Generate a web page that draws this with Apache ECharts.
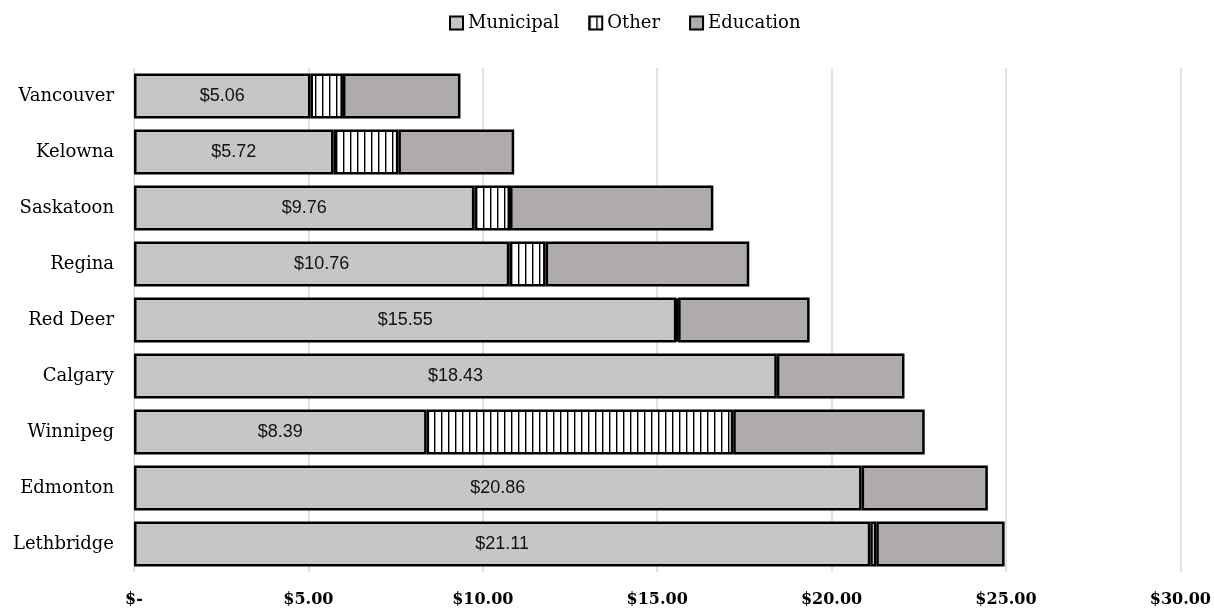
<!DOCTYPE html>
<html>
<head>
<meta charset="utf-8">
<style>
  html, body { margin: 0; padding: 0; background: #fff; }
  #chart { width: 1214px; height: 608px; }
</style>
<script src="https://cdn.jsdelivr.net/npm/echarts@6/dist/echarts.min.js"></script>
</head>
<body>
<div id="chart"></div>
<script>
// Property tax components by city ($ per $1,000 of assessment)
const cities = ['Vancouver', 'Kelowna', 'Saskatoon', 'Regina', 'Red Deer', 'Calgary', 'Winnipeg', 'Edmonton', 'Lethbridge'];
const municipal = [5.06, 5.72, 9.76, 10.76, 15.55, 18.43, 8.39, 20.86, 21.11];
const other     = [0.93, 1.86, 1.02, 1.04, 0.05, 0, 8.79, 0, 0.17];
const education = [3.37, 3.32, 5.83, 5.84, 3.77, 3.66, 5.49, 3.62, 3.68];
const xTicks = [0, 5, 10, 15, 20, 25, 30];

// Fine stippled grey fill for the municipal share
function stipple() {
  const c = document.createElement('canvas');
  c.width = 4; c.height = 4;
  const g = c.getContext('2d');
  g.fillStyle = '#c6c6c6';
  g.fillRect(0, 0, 4, 4);
  g.fillStyle = '#bcbcbc';
  g.fillRect(0, 0, 1, 1);
  g.fillRect(2, 2, 1, 1);
  g.fillStyle = '#cfcfcf';
  g.fillRect(2, 0, 1, 1);
  g.fillRect(0, 2, 1, 1);
  return c;
}

// Thin vertical black stripes on white for the "Other" share
function stripes() {
  const c = document.createElement('canvas');
  c.width = 7; c.height = 8;
  const g = c.getContext('2d');
  g.fillStyle = '#ffffff';
  g.fillRect(0, 0, 7, 8);
  g.fillStyle = '#000000';
  g.fillRect(0, 0, 1, 8);
  g.fillStyle = '#9a9a9a';
  g.fillRect(1, 0, 1, 8);
  return c;
}

const serif = 'DejaVu Serif';
const border = { borderColor: '#000', borderWidth: 2.5 };

const chart = echarts.init(document.getElementById('chart'), null, { renderer: 'canvas' });
chart.setOption({
  animation: false,
  backgroundColor: '#ffffff',
  legend: {
    top: 9,
    left: 444,
    icon: 'rect',
    itemWidth: 13,
    itemHeight: 13,
    itemGap: 29,
    textStyle: { fontFamily: serif, fontSize: 18, color: '#000' },
    data: ['Municipal', 'Other', 'Education']
  },
  grid: { left: 134, right: 32, top: 68, bottom: 34, containLabel: false },
  xAxis: {
    type: 'value',
    min: xTicks[0],
    max: xTicks[xTicks.length - 1],
    interval: 5,
    axisLine: { show: false },
    axisTick: { show: false },
    splitLine: { show: true, lineStyle: { color: '#d9d9d9', width: 1.5 } },
    axisLabel: {
      margin: 20,
      fontFamily: serif,
      fontSize: 16,
      fontWeight: 'bold',
      color: '#000',
      formatter: v => v === 0 ? '$-' : '$' + v.toFixed(2)
    }
  },
  yAxis: {
    type: 'category',
    data: cities,
    inverse: true,
    axisLine: { show: false },
    axisTick: { show: false },
    axisLabel: { margin: 20, fontFamily: serif, fontSize: 18, color: '#000' }
  },
  series: [
    {
      name: 'Municipal',
      type: 'bar',
      stack: 'tax',
      barWidth: 45,
      data: municipal,
      itemStyle: Object.assign({ color: { image: stipple(), repeat: 'repeat' } }, border),
      label: {
        show: true,
        position: 'inside',
        fontFamily: 'Liberation Sans',
        fontSize: 18,
        color: '#111',
        formatter: p => '$' + p.value.toFixed(2)
      }
    },
    {
      name: 'Other',
      type: 'bar',
      stack: 'tax',
      barWidth: 45,
      data: other.map(v => v === 0 ? '-' : v),
      itemStyle: Object.assign({ color: { image: stripes(), repeat: 'repeat' } }, border)
    },
    {
      name: 'Education',
      type: 'bar',
      stack: 'tax',
      barWidth: 45,
      data: education,
      itemStyle: Object.assign({ color: '#afabaa' }, border)
    }
  ]
});
</script>
</body>
</html>
